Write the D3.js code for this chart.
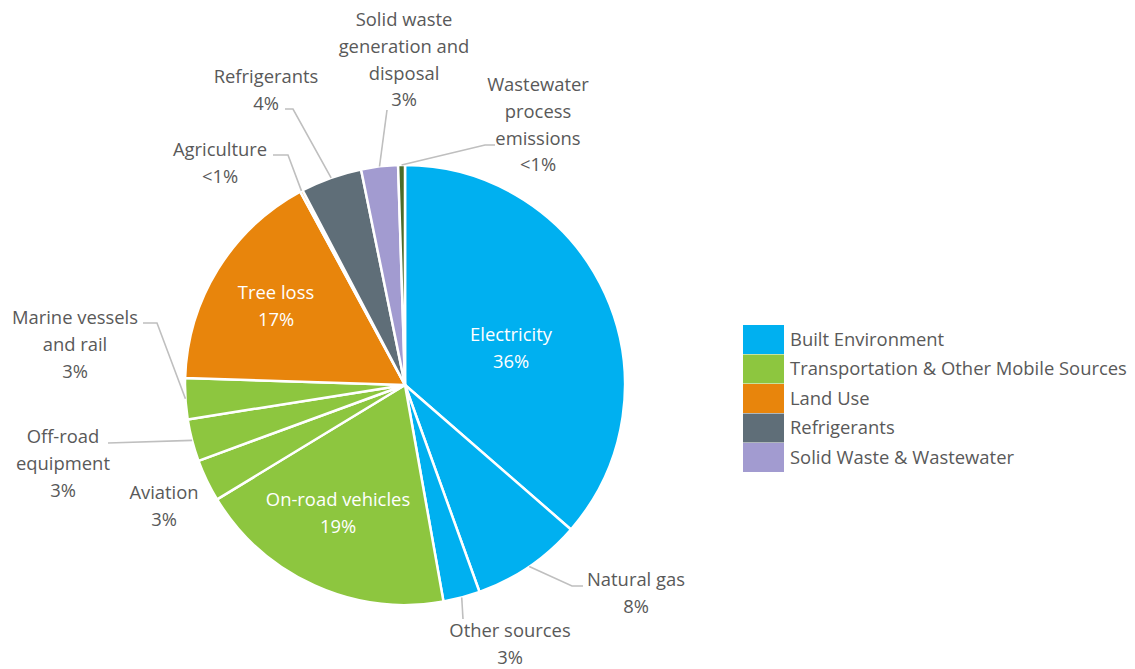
<!DOCTYPE html>
<html><head><meta charset="utf-8">
<script src="https://cdn.jsdelivr.net/npm/d3@7"></script>
<style>
body{margin:0;background:#fff;}
text{font-family:"Open Sans","Noto Sans",sans-serif;}
</style></head>
<body><svg id="c" width="1135" height="669"></svg>
<script>
// ---- data ----
const slices = ["Electricity","Natural gas","Other sources","On-road vehicles","Aviation","Off-road equipment","Marine vessels and rail","Tree loss","Agriculture","Refrigerants","Solid waste generation and disposal","Wastewater process emissions"];
const values = [36.4,8.1,2.7,19.1,3.1,3.1,3.0,16.6,0.2,4.5,2.7,0.5];
const valueLabels = ["36%","8%","3%","19%","3%","3%","3%","17%","<1%","4%","3%","<1%"];
const sliceCategory = ["Built Environment","Built Environment","Built Environment","Transportation & Other Mobile Sources","Transportation & Other Mobile Sources","Transportation & Other Mobile Sources","Transportation & Other Mobile Sources","Land Use","Land Use","Refrigerants","Solid Waste & Wastewater","Solid Waste & Wastewater"];
const categories = ["Built Environment","Transportation & Other Mobile Sources","Land Use","Refrigerants","Solid Waste & Wastewater"];
const categoryColors = ["#00B0F0","#8DC63F","#E8850C","#5F6E78","#A29BD0"];
const specialColors = {"Wastewater process emissions":"#4B6B2A"};

// ---- layout (label text lines & placement) ----
const labelLayout = [
  {lines:["Electricity"], x:511, y:341, inside:true},
  {lines:["Natural gas"], x:636, y:586, path:[[572,586],[583,586]]},
  {lines:["Other sources"], x:510, y:637, path:[[463,619]]},
  {lines:["On-road vehicles"], x:338, y:506, inside:true},
  {lines:["Aviation"], x:164, y:499},
  {lines:["Off-road","equipment"], x:63, y:443, path:[[108,443]]},
  {lines:["Marine vessels","and rail"], x:75, y:324, path:[[157,323],[143,323]]},
  {lines:["Tree loss"], x:276, y:299, inside:true},
  {lines:["Agriculture"], x:220, y:156, path:[[288,155],[273,155]]},
  {lines:["Refrigerants"], x:266, y:83, path:[[293,109],[285,109]]},
  {lines:["Solid waste","generation and","disposal"], x:404, y:26, path:[[387,110]]},
  {lines:["Wastewater","process","emissions"], x:538, y:91, path:[[485,145],[495,145]]}
];

const svg = d3.select("#c");
const cx = 405, cy = 385, R = 220, lh = 26.8, fs = 18.4;
const color = d3.scaleOrdinal().domain(categories).range(categoryColors);

const pie = d3.pie().sort(null).value(d => d)(values);
const arc = d3.arc().innerRadius(0).outerRadius(R);
const g = svg.append("g").attr("transform", `translate(${cx},${cy})`);

g.selectAll("path.slice").data(pie).join("path")
  .attr("class","slice")
  .attr("d", arc)
  .attr("fill", (d,i) => specialColors[slices[i]] || color(sliceCategory[i]))
  .attr("stroke","#fff").attr("stroke-width",2.5).attr("stroke-linejoin","round");

// leader lines
pie.forEach((d,i) => {
  const L = labelLayout[i];
  if (!L.path) return;
  const a = (d.startAngle + d.endAngle)/2;
  const p0 = [cx + R*Math.sin(a), cy - R*Math.cos(a)];
  const pts = [p0].concat(L.path);
  svg.append("path").attr("d", d3.line()(pts))
    .attr("fill","none").attr("stroke","#BFBFBF").attr("stroke-width",1.6);
});

// labels
labelLayout.forEach((L,i) => {
  const t = svg.append("text").attr("text-anchor","middle")
    .attr("font-size", fs).attr("fill", L.inside ? "#fff" : "#595959");
  const all = L.lines.concat([valueLabels[i]]);
  all.forEach((s,k) => t.append("tspan").attr("x", L.x).attr("y", L.y + k*lh).text(s));
});

// legend
const lg = svg.append("g").attr("transform","translate(743,325)");
const rowH = 29.5;
categories.forEach((c,k) => {
  lg.append("rect").attr("x",0).attr("y",k*rowH).attr("width",41).attr("height",rowH-0.5).attr("fill",color(c));
  lg.append("text").attr("x",47).attr("y",k*rowH+rowH/2+6).attr("font-size",fs).attr("fill","#595959").text(c);
});
</script>
</body></html>
